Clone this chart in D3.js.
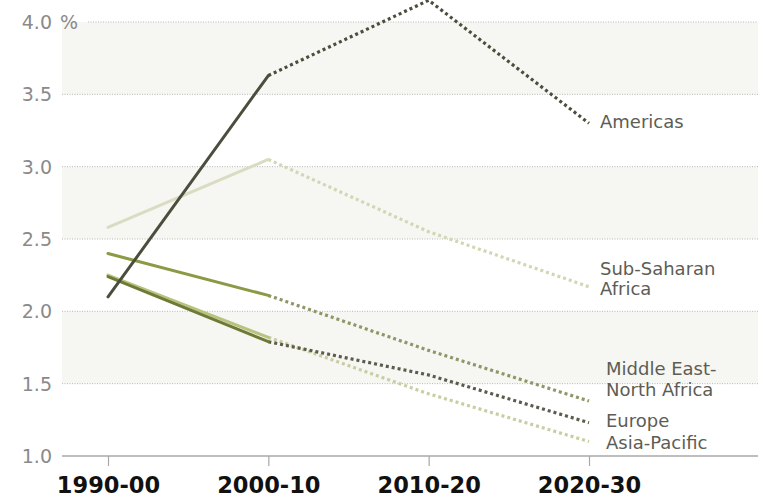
<!DOCTYPE html>
<html><head><meta charset="utf-8">
<script src="https://cdn.jsdelivr.net/npm/d3@7"></script>
<style>body{margin:0;background:#fff}svg{display:block}</style>
</head><body>
<svg id="c" width="763" height="498"></svg>
<script>
const periods = ["1990-00", "2000-10", "2010-20", "2020-30"];
const yTicks = [1.0, 1.5, 2.0, 2.5, 3.0, 3.5, 4.0];
const bandRanges = [[3.5, 4.0], [2.5, 3.0], [1.5, 2.0]];
const americas = [2.10, 3.63, 4.15, 3.30];
const subSaharan = [2.58, 3.05, 2.55, 2.17];
const mena = [2.40, 2.11, 1.73, 1.38];
const europe = [2.24, 1.79, 1.56, 1.23];
const asiaPacific = [2.25, 1.82, 1.43, 1.10];
const seriesNames = ["Americas", "Sub-Saharan Africa", "Middle East-North Africa", "Europe", "Asia-Pacific"];

const series = [
  {name: ["Asia-Pacific"], values: asiaPacific, solid: "#b9c37f", dot: "#c9cda3", lx: 606, ly: 449, lineH: 21},
  {name: ["Sub-Saharan", "Africa"], values: subSaharan, solid: "#dadcc2", dot: "#d3d6b4", lx: 600, ly: 275, lineH: 20},
  {name: ["Middle East-", "North Africa"], values: mena, solid: "#8a9a45", dot: "#8f9668", lx: 606, ly: 375, lineH: 21},
  {name: ["Europe"], values: europe, solid: "#6e7b36", dot: "#5b5c4c", lx: 606, ly: 427, lineH: 21},
  {name: ["Americas"], values: americas, solid: "#4b4d3d", dot: "#4b4d3d", lx: 600, ly: 128, lineH: 21}
];

const svg = d3.select("#c");
const x = d3.scalePoint().domain(periods).range([108, 589]);
const y = d3.scaleLinear().domain([1, 4]).range([456, 22]);
const left = 62, right = 758;

// bands
svg.append("g").selectAll("rect").data(bandRanges).join("rect")
  .attr("x", left).attr("width", right - left)
  .attr("y", d => y(d[1])).attr("height", d => y(d[0]) - y(d[1]))
  .attr("fill", "#f6f6f2");

// gridlines
svg.append("g").selectAll("line").data(yTicks.filter(t => t > 1)).join("line")
  .attr("x1", d => d === 4 ? 88 : left).attr("x2", right)
  .attr("y1", d => y(d)).attr("y2", d => y(d))
  .attr("stroke", "#b8b8b8").attr("stroke-width", 1).attr("stroke-dasharray", "1,1.5");

// y labels
const fmt = d3.format(".1f");
svg.append("g").selectAll("text").data(yTicks).join("text")
  .attr("x", 52).attr("y", d => y(d)).attr("dy", "0.36em")
  .attr("text-anchor", "end")
  .attr("font-family", "DejaVu Sans, Verdana, sans-serif").attr("font-size", 19)
  .attr("fill", "#8a8a8a")
  .text(d => fmt(d));
svg.append("text").attr("x", 60).attr("y", y(4)).attr("dy", "0.36em")
  .attr("font-family", "DejaVu Sans, Verdana, sans-serif").attr("font-size", 19)
  .attr("fill", "#8a8a8a").text("%");

// x axis
const xAxis = d3.axisBottom(x).tickSize(10).tickPadding(11);
const gx = svg.append("g").attr("transform", `translate(0,${y(1)})`).call(xAxis);
gx.select(".domain").remove();
gx.insert("line", ":first-child").attr("x1", left).attr("x2", right).attr("y1", 0).attr("y2", 0)
  .attr("stroke", "#a8a8a8").attr("stroke-width", 1.5);
gx.selectAll(".tick line").attr("stroke", "#a8a8a8").attr("stroke-width", 1.2);
gx.selectAll(".tick text")
  .attr("font-family", "DejaVu Sans, Verdana, sans-serif").attr("font-weight", "bold")
  .attr("font-size", 22.5).attr("fill", "#111");

// lines
const line = d3.line().x(d => x(d.p)).y(d => y(d.v));
const gl = svg.append("g");
series.forEach(s => {
  const pts = s.values.map((v, i) => ({p: periods[i], v}));
  gl.append("path").attr("d", line(pts.slice(1)))
    .attr("fill", "none").attr("stroke", s.dot).attr("stroke-width", 3.2)
    .attr("stroke-dasharray", "3,3");
});
series.forEach(s => {
  const pts = s.values.map((v, i) => ({p: periods[i], v}));
  gl.append("path").attr("d", line(pts.slice(0, 2)))
    .attr("fill", "none").attr("stroke", s.solid).attr("stroke-width", 3)
    .attr("stroke-linecap", "round");
});

// labels
series.forEach(s => {
  const t = svg.append("text")
    .attr("font-family", "DejaVu Sans, Verdana, sans-serif").attr("font-size", 18)
    .attr("fill", "#5d5d55");
  s.name.forEach((n, i) => {
    t.append("tspan").attr("x", s.lx).attr("y", s.ly + i * s.lineH).text(n);
  });
});
</script>
</body></html>
